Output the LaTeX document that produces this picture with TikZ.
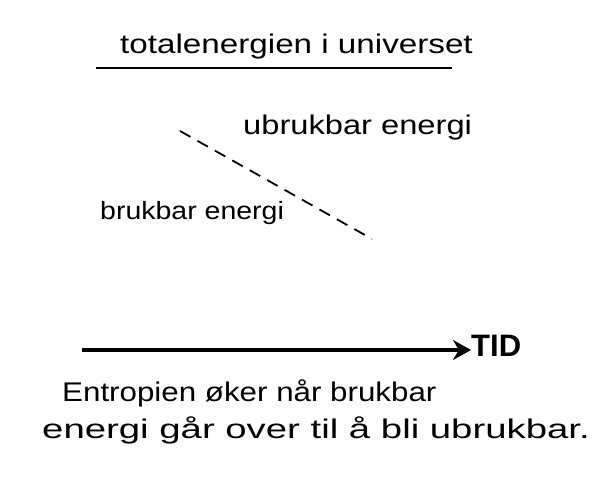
\documentclass[tikz,border=0pt]{standalone}
\usepackage{fontspec}
\setmainfont{Liberation Sans}
\usepackage{tikz}
\usetikzlibrary{arrows.meta}

\begin{document}
\begin{tikzpicture}[x=1pt, y=-1pt,
		label/.style={anchor=west, inner sep=0pt, font=\fontsize{27}{30}\selectfont},
		dashline/.style={line width=1.8pt, dash pattern=on 12pt off 8pt},
		arrow/.style={-{Stealth[length=18pt, width=20pt]}, line width=4.5pt}
	]
		\useasboundingbox (0,0) rectangle (600,492);
		
		% Title
		\node[label] (title) at (120,47) {\scalebox{1.23}[1]{totalenergien i universet}};
		\coordinate (ulstart) at (96,68);
		\coordinate (ulend) at (452,68);
		\draw[line width=2.6pt] (ulstart) -- (ulend);
		
		% Energy labels
		\node[label] (ubrukbar) at (243,128) {\scalebox{1.21}[1]{ubrukbar energi}};
		\node[label, font=\fontsize{25}{28}\selectfont] (brukbar) at (100,213) {\scalebox{1.14}[1]{brukbar energi}};
		\coordinate (dashstart) at (180,131);
		\coordinate (dashend) at (372,239);
		\draw[dashline] (dashstart) -- (dashend);
		
		% Time axis
		\node[anchor=west, inner sep=0pt, font=\bfseries\fontsize{31}{33}\selectfont] (tid) at (471,346) {TID};
		\coordinate (tstart) at (82,350);
		\draw[arrow] (tstart) -- (tid.west |- tstart);
		
		% Caption
		\node[label] (line1) at (62,393) {\scalebox{1.16}[1]{Entropien øker når brukbar}};
		\node[label] (line2) at (42,430) {\scalebox{1.42}[1]{energi går over til å bli ubrukbar.}};
	\end{tikzpicture}
\end{document}
